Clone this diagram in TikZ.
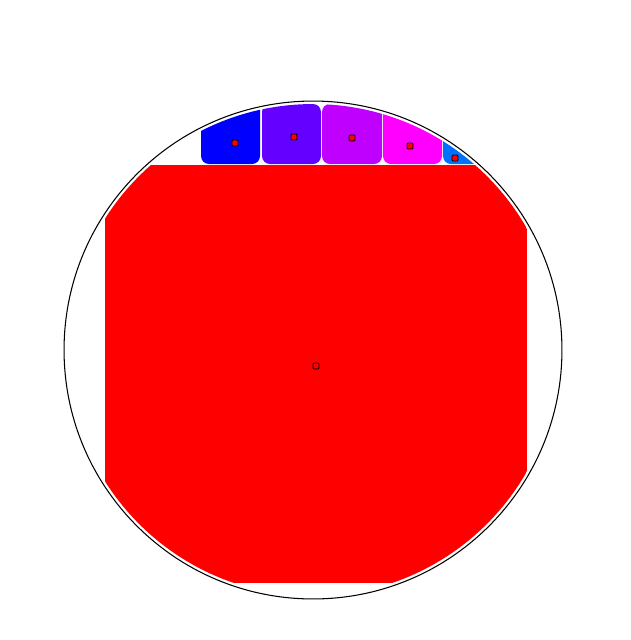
\documentclass[tikz,border=0pt]{standalone}
\usepackage{xcolor}
\usepackage{tikz}
\definecolor{cellblue}{HTML}{0000FF}
\definecolor{cellindigo}{HTML}{6400FF}
\definecolor{cellviolet}{HTML}{C000FF}
\definecolor{cellmagenta}{HTML}{FF00FF}
\definecolor{cellsky}{HTML}{0070FF}
\definecolor{regionred}{HTML}{FF0000}

\begin{document}
\begin{tikzpicture}[x=0.02cm, y=-0.02cm,
  cell/.style={rounded corners=0.16cm},
  seed/.style={rectangle, draw=black, fill=red, line width=0.5pt, rounded corners=0.6pt, minimum size=0.12cm, inner sep=0pt},
  rim/.style={draw=black, line width=0.6pt}
]
\useasboundingbox (0,0) rectangle (630,640);
% outer boundary
\node[circle, rim, minimum size=9.96cm, inner sep=0pt] (rim) at (313,350) {};
% regions, clipped by the inner disc
\begin{scope}
  \clip (313,350) circle[radius=4.92cm];
  \fill[regionred] (105,165) rectangle (527,583);
  \fill[cell, cellblue] (201,60) rectangle (260,164);
  \fill[cell, cellindigo] (262,104) rectangle (321,164);
  \fill[cell, cellviolet] (322,104) rectangle (382,164);
  \fill[cell, cellmagenta] (383,60) rectangle (442,164);
  \fill[cell, cellsky] (443,60) rectangle (510,164);
\end{scope}
% seed points
\node[seed] (sred) at (316,366) {};
\node[seed] (sblue) at (235,143) {};
\node[seed] (sindigo) at (294,137) {};
\node[seed] (sviolet) at (352,138) {};
\node[seed] (smagenta) at (410,146) {};
\node[seed] (ssky) at (455,158) {};
\end{tikzpicture}
\end{document}
